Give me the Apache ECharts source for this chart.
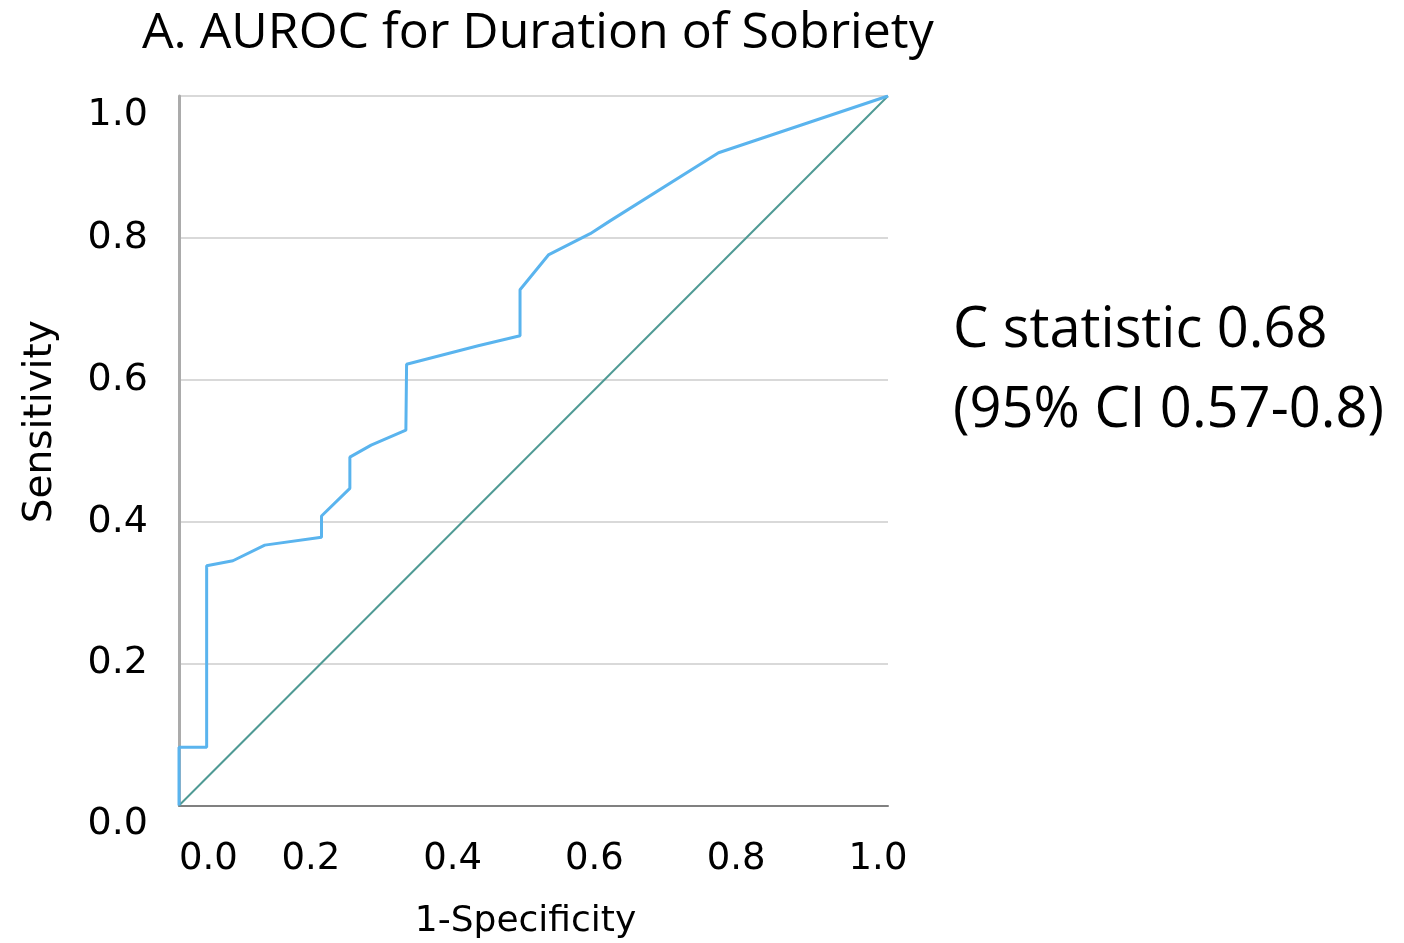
<!DOCTYPE html>
<html>
<head>
<meta charset="utf-8">
<script src="https://cdn.jsdelivr.net/npm/echarts@6/dist/echarts.min.js"></script>
<style>
  html, body { margin: 0; padding: 0; background: #fff; }
  #chart { width: 1404px; height: 943px; }
</style>
</head>
<body>
<div id="chart"></div>
<script>
// ROC curve for duration of sobriety: 1-specificity vs sensitivity
const fpr = [0, 0, 0.039, 0.039, 0.076, 0.121, 0.201, 0.201, 0.241, 0.241, 0.271, 0.320, 0.321, 0.422, 0.481, 0.481, 0.521, 0.580, 0.608, 0.761, 1.0];
const tpr = [0, 0.082, 0.082, 0.338, 0.345, 0.367, 0.378, 0.408, 0.447, 0.491, 0.508, 0.529, 0.622, 0.648, 0.662, 0.727, 0.776, 0.806, 0.824, 0.920, 1.0];
// chance (reference) line
const refX = [0, 1];
const refY = [0, 1];
const axisTicks = [0, 0.2, 0.4, 0.6, 0.8, 1.0];

const chart = echarts.init(document.getElementById('chart'), null, { renderer: 'canvas' });

const labelFont = 'DejaVu Sans';
const textFont = 'Open Sans';

chart.setOption({
  backgroundColor: '#ffffff',
  animation: false,
  title: {
    text: 'A. AUROC for Duration of Sobriety',
    left: 137,
    top: 4,
    textStyle: { fontFamily: textFont, fontSize: 50, fontWeight: 'normal', color: '#000' }
  },
  grid: { left: 179, right: 516, top: 96, bottom: 137.5, containLabel: false, outerBoundsMode: 'none' },
  xAxis: {
    type: 'value',
    min: axisTicks[0],
    max: axisTicks[axisTicks.length - 1],
    interval: 0.2,
    name: '1-Specificity',
    nameLocation: 'middle',
    nameGap: 98,
    nameTextStyle: { fontFamily: labelFont, fontSize: 36, color: '#000', padding: [0, 16, 0, 0] },
    axisLine: { show: true, lineStyle: { color: '#808080', width: 2 } },
    axisTick: { show: false },
    splitLine: { show: false },
    axisLabel: {
      margin: 35,
      fontFamily: labelFont,
      fontSize: 37,
      color: '#000',
      padding: [0, 20, 0, 0],
      alignMinLabel: 'left',
      formatter: v => v.toFixed(1)
    }
  },
  yAxis: {
    type: 'value',
    min: axisTicks[0],
    max: axisTicks[axisTicks.length - 1],
    interval: 0.2,
    name: 'Sensitivity',
    nameLocation: 'middle',
    nameGap: 119,
    nameRotate: 90,
    nameTextStyle: { fontFamily: labelFont, fontSize: 39, color: '#000', padding: [0, 0, 0, 58] },
    axisLine: { show: true, lineStyle: { color: '#ababab', width: 3 } },
    axisTick: { show: false },
    splitLine: { show: true, lineStyle: { color: '#d9d9d9', width: 2 } },
    axisLabel: {
      margin: 31,
      fontFamily: labelFont,
      fontSize: 38,
      color: '#000',
      verticalAlignMinLabel: 'top',
      verticalAlignMaxLabel: 'top',
      formatter: v => v.toFixed(1)
    }
  },
  graphic: [
    {
      type: 'text',
      left: 953,
      top: 303,
      style: { text: 'C statistic 0.68', fontFamily: textFont, fontSize: 56, fill: '#000' }
    },
    {
      type: 'text',
      left: 953,
      top: 383,
      style: { text: '(95% CI 0.57-0.8)', fontFamily: textFont, fontSize: 56, fill: '#000' }
    }
  ],
  series: [
    {
      name: 'Reference',
      type: 'line',
      data: refX.map((x, i) => [x, refY[i]]),
      symbol: 'none',
      lineStyle: { color: '#4f9a94', width: 2 },
      z: 2
    },
    {
      name: 'Duration of Sobriety',
      type: 'line',
      data: fpr.map((x, i) => [x, tpr[i]]),
      symbol: 'none',
      lineStyle: { color: '#5ab4ee', width: 3 },
      z: 3
    }
  ]
});
</script>
</body>
</html>
